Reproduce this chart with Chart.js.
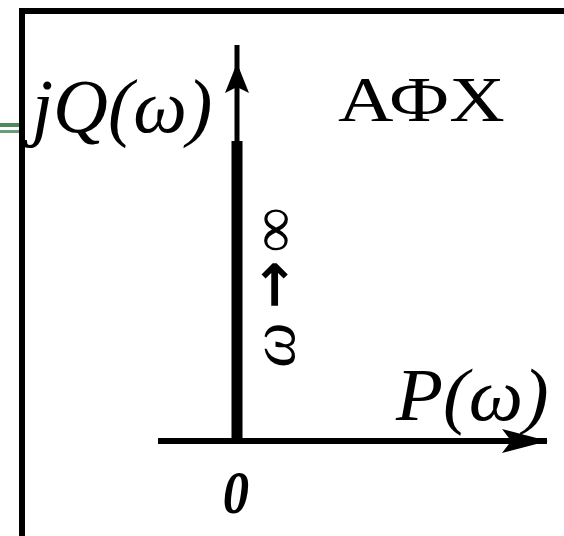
<!DOCTYPE html>
<html>
<head>
<meta charset="utf-8">
<script src="https://cdn.jsdelivr.net/npm/chart.js@4"></script>
<style>
  html, body { margin: 0; padding: 0; background: #fff; }
  #wrap { position: relative; width: 564px; height: 536px; overflow: hidden; }
  /* рамка слайда */
  #frame { position: absolute; left: 19px; top: 8px; right: -10px; bottom: -10px;
           border-top: 6px solid #000; border-left: 6px solid #000; }
  .green { position: absolute; left: 0; width: 19px; }
  #g1 { top: 123px; height: 4px; background: #4e8a5c; }
  #g2 { top: 130px; height: 3px; background: #6a9e76; }
  #afc { position: absolute; left: 0; top: 0; }
</style>
</head>
<body>
<div id="wrap">
  <div id="frame"></div>
  <div class="green" id="g1"></div>
  <div class="green" id="g2"></div>
  <canvas id="afc" width="564" height="536"></canvas>
</div>
<script>
// оси комплексной плоскости (1 ед. = 100 px)
const axisP = [{ x: -0.79, y: 0 }, { x: 3.10, y: 0 }];
const axisQ = [{ x: 0, y: 0 }, { x: 0, y: 3.96 }];
// годограф АФХ: P = 0, Q растёт от 0 к бесконечности
const hodoP = [0, 0];
const hodoQ = [0, 3.0];

// наконечники стрелок: точка острия и направление
const arrowTips = [
  { x: 3.11, y: 0, dir: 'right', len: 46, half: 12 },
  { x: 0, y: 3.78, dir: 'up', len: 30, half: 12 }
];

// подписи (sx — растяжение по горизонтали)
const labels = [
  { text: 'jQ(ω)', x: -2.05, y: 3.09, font: 'italic 76px "Liberation Serif"', align: 'left', sx: 1.0 },
  { text: 'АФХ', x: 1.01, y: 3.20, font: '64px "Liberation Serif"', align: 'left', sx: 1.2 },
  { text: 'P(ω)', x: 1.59, y: 0.21, font: 'italic 74px "Liberation Serif"', align: 'left', sx: 1.04 },
  { text: '0', x: -0.01, y: -0.72, font: 'italic bold 62px "Liberation Serif"', align: 'center', sx: 0.85 }
];
// вертикальная подпись ω → ∞ (повёрнута на -90°)
const sideLabels = [
  { text: 'ω', x: 0.40, y: 0.96, font: 'italic 64px "Liberation Serif"' },
  { text: '→', x: 0.41, y: 1.56, font: 'bold 58px "DejaVu Sans"' },
  { text: '∞', x: 0.41, y: 2.11, font: 'bold 62px "Liberation Serif"' }
];

const drawExtras = {
  id: 'drawExtras',
  afterDatasetsDraw(chart) {
    const ctx = chart.ctx;
    const sx = chart.scales.x, sy = chart.scales.y;
    ctx.save();
    ctx.fillStyle = '#000';
    arrowTips.forEach(a => {
      const px = sx.getPixelForValue(a.x), py = sy.getPixelForValue(a.y);
      ctx.save();
      ctx.translate(px, py);
      if (a.dir === 'up') ctx.rotate(-Math.PI / 2);
      ctx.beginPath();
      ctx.moveTo(0, 0);
      ctx.lineTo(-a.len, -a.half);
      ctx.lineTo(-a.len * 0.8, 0);
      ctx.lineTo(-a.len, a.half);
      ctx.closePath();
      ctx.fill();
      ctx.restore();
    });
    ctx.textBaseline = 'alphabetic';
    labels.forEach(l => {
      ctx.save();
      ctx.font = l.font;
      ctx.textAlign = l.align;
      ctx.translate(sx.getPixelForValue(l.x), sy.getPixelForValue(l.y));
      ctx.scale(l.sx, 1);
      ctx.fillText(l.text, 0, 0);
      ctx.restore();
    });
    ctx.textAlign = 'center';
    ctx.textBaseline = 'middle';
    sideLabels.forEach(l => {
      ctx.save();
      ctx.translate(sx.getPixelForValue(l.x), sy.getPixelForValue(l.y));
      ctx.rotate(-Math.PI / 2);
      ctx.font = l.font;
      ctx.fillText(l.text, 0, 0);
      ctx.restore();
    });
    ctx.restore();
  }
};

new Chart(document.getElementById('afc'), {
  type: 'scatter',
  data: {
    datasets: [
      { data: axisP, showLine: true, borderColor: '#000', borderWidth: 6, pointRadius: 0 },
      { data: axisQ, showLine: true, borderColor: '#000', borderWidth: 5, pointRadius: 0 },
      { data: hodoP.map((p, i) => ({ x: p, y: hodoQ[i] })), showLine: true,
        borderColor: '#000', borderWidth: 11, pointRadius: 0, borderCapStyle: 'butt' }
    ]
  },
  options: {
    responsive: false,
    animation: false,
    layout: { padding: 0 },
    plugins: { legend: { display: false }, tooltip: { enabled: false } },
    scales: {
      x: { type: 'linear', display: false, min: -2.37, max: 3.27 },
      y: { type: 'linear', display: false, min: -0.95, max: 4.41 }
    }
  },
  plugins: [drawExtras]
});
</script>
</body>
</html>
